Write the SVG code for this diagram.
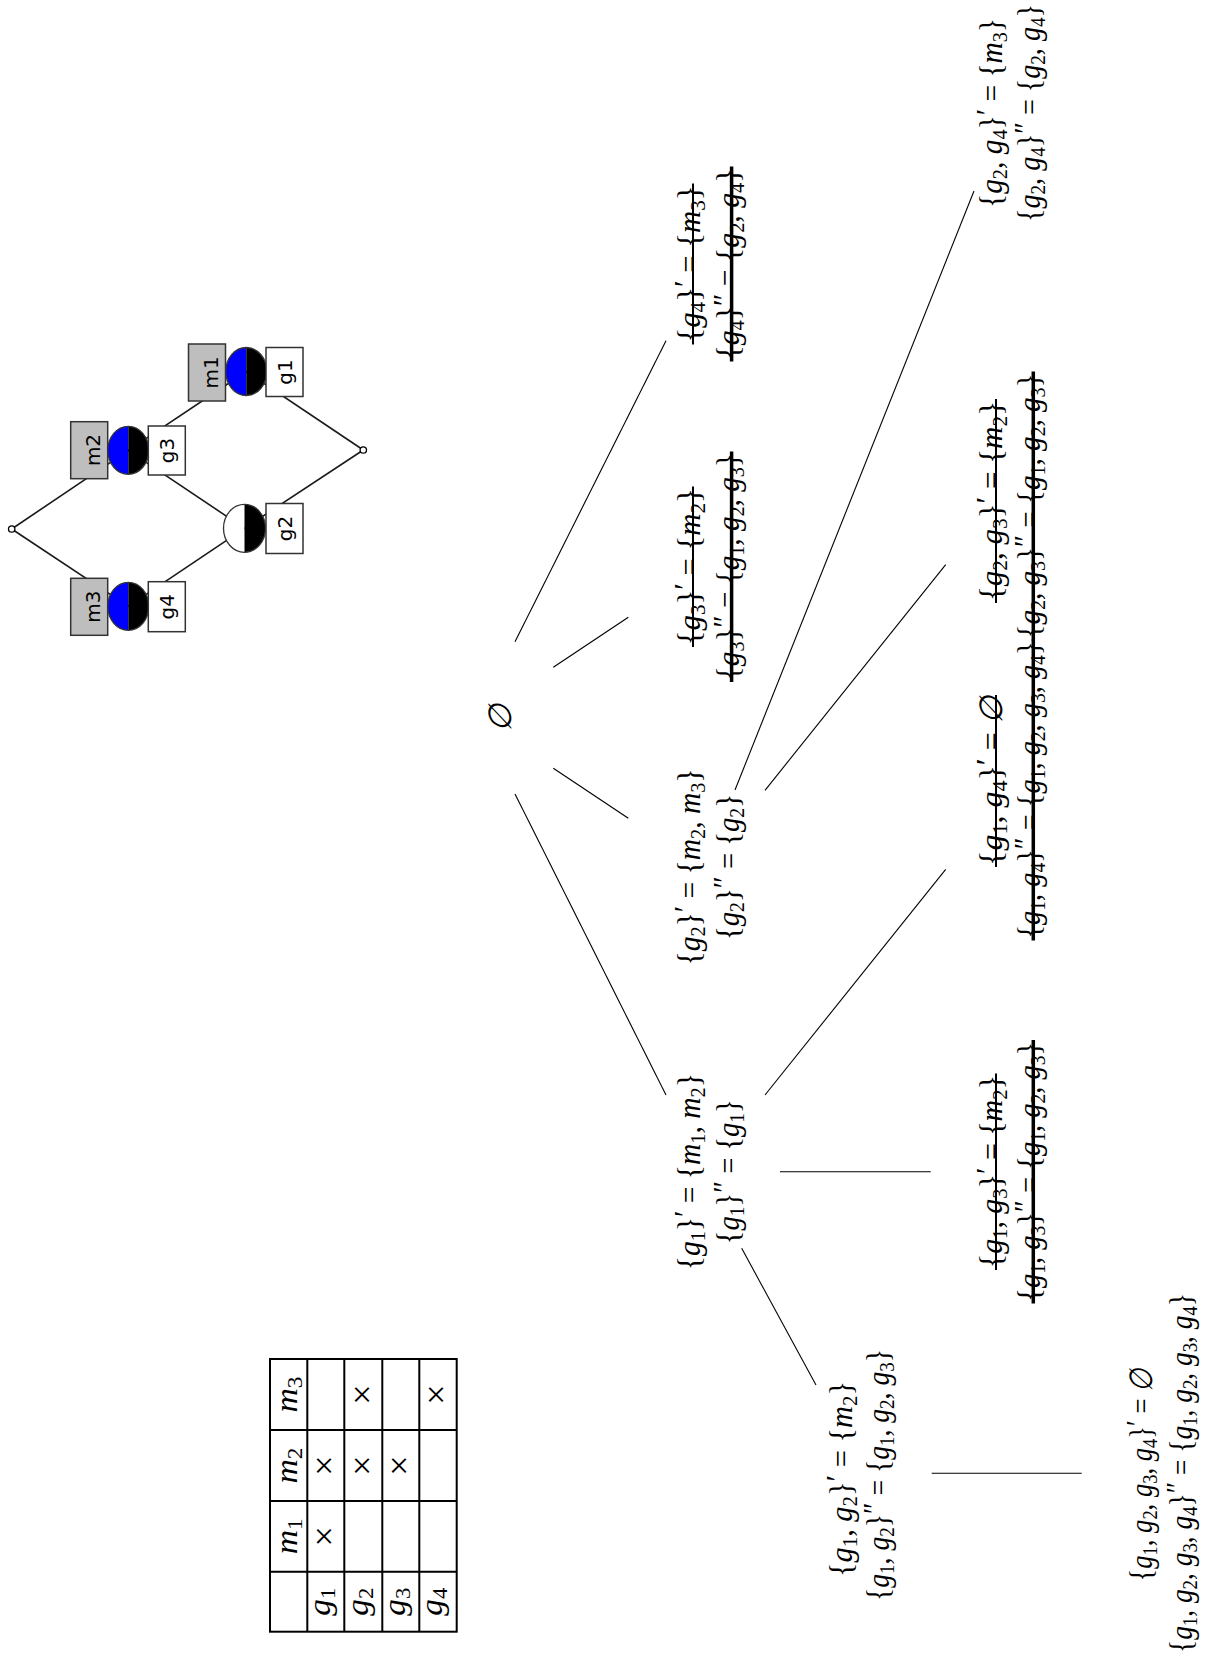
<svg xmlns="http://www.w3.org/2000/svg" width="1217" height="1664" viewBox="0 0 1217 1664">
<style>
.t{font-family:"Liberation Serif","DejaVu Serif",serif;font-size:32px;fill:#000}
.i{font-style:italic}
.s{font-size:22px}
.x{font-size:36px}
.e line{stroke:#000;stroke-width:1.1}
.k1{stroke:#000;stroke-width:2}
.k2{stroke:#000;stroke-width:3.5}
.lb{font-family:"DejaVu Sans",sans-serif;font-size:20px;fill:#000}
.ge line{stroke:#1a1a1a;stroke-width:1.6}
.gb{fill:#bebebe;stroke:#333;stroke-width:1.5}
.wb{fill:#fff;stroke:#333;stroke-width:1.5}
.tb line,.tb rect{stroke:#000;stroke-width:2;fill:none}
</style>
<rect width="1217" height="1664" fill="#fff"/>

<g id="lattice">
<g class="ge">
<line x1="11.7" y1="529" x2="128.3" y2="450.3"/>
<line x1="11.7" y1="529" x2="128.3" y2="606.3"/>
<line x1="128.3" y1="450.3" x2="246.3" y2="371.5"/>
<line x1="128.3" y1="450.3" x2="244.5" y2="528.3"/>
<line x1="128.3" y1="606.3" x2="244.5" y2="528.3"/>
<line x1="246.3" y1="371.5" x2="363.3" y2="450"/>
<line x1="244.5" y1="528.3" x2="363.3" y2="450"/>
</g>
<circle id="bottom" cx="11.7" cy="529" r="3.2" fill="#fff" stroke="#000" stroke-width="1.3"/>
<circle id="top" cx="363.3" cy="450" r="3.2" fill="#fff" stroke="#000" stroke-width="1.3"/>
<g id="n-m1">
<rect class="gb" x="188.5" y="344" width="37" height="57"/>
<path d="M246.3,347.5 A20.5,24 0 0 0 246.3,395.5 Z" fill="#0000ff"/>
<path d="M246.3,347.5 A20.5,24 0 0 1 246.3,395.5 Z" fill="#000"/>
<ellipse cx="246.3" cy="371.5" rx="20.5" ry="24" fill="none" stroke="#333" stroke-width="1.3"/>
<rect class="wb" x="266" y="347.5" width="37" height="49"/>
<text class="lb" text-anchor="middle" transform="translate(217.5,372.3) rotate(-90)">m1</text>
<text class="lb" text-anchor="middle" transform="translate(291.5,372) rotate(-90)">g1</text>
</g>
<g id="n-m2">
<rect class="gb" x="70.7" y="421.7" width="37" height="57"/>
<path d="M128.3,426.3 A20.5,24 0 0 0 128.3,474.3 Z" fill="#0000ff"/>
<path d="M128.3,426.3 A20.5,24 0 0 1 128.3,474.3 Z" fill="#000"/>
<ellipse cx="128.3" cy="450.3" rx="20.5" ry="24" fill="none" stroke="#333" stroke-width="1.3"/>
<rect class="wb" x="148.3" y="426" width="37" height="49"/>
<text class="lb" text-anchor="middle" transform="translate(99.7,450) rotate(-90)">m2</text>
<text class="lb" text-anchor="middle" transform="translate(174,450.5) rotate(-90)">g3</text>
</g>
<g id="n-g2">
<path d="M244.5,504.3 A21,24 0 0 0 244.5,552.3 Z" fill="#fff"/>
<path d="M244.5,504.3 A21,24 0 0 1 244.5,552.3 Z" fill="#000"/>
<ellipse cx="244.5" cy="528.3" rx="21" ry="24" fill="none" stroke="#333" stroke-width="1.3"/>
<rect class="wb" x="266" y="503.5" width="37" height="50"/>
<text class="lb" text-anchor="middle" transform="translate(291.5,528.5) rotate(-90)">g2</text>
</g>
<g id="n-m3">
<rect class="gb" x="70.7" y="578.3" width="37" height="57"/>
<path d="M128.3,582.3 A20.5,24 0 0 0 128.3,630.3 Z" fill="#0000ff"/>
<path d="M128.3,582.3 A20.5,24 0 0 1 128.3,630.3 Z" fill="#000"/>
<ellipse cx="128.3" cy="606.3" rx="20.5" ry="24" fill="none" stroke="#333" stroke-width="1.3"/>
<rect class="wb" x="148.3" y="581.7" width="37" height="50"/>
<text class="lb" text-anchor="middle" transform="translate(99.7,606.7) rotate(-90)">m3</text>
<text class="lb" text-anchor="middle" transform="translate(174,606.7) rotate(-90)">g4</text>
</g>
</g>

<g id="table" class="tb">
<rect x="270" y="1359" width="186.7" height="272.7"/>
<line x1="307.3" y1="1359" x2="307.3" y2="1631.7"/>
<line x1="344.3" y1="1359" x2="344.3" y2="1631.7"/>
<line x1="382.3" y1="1359" x2="382.3" y2="1631.7"/>
<line x1="419.3" y1="1359" x2="419.3" y2="1631.7"/>
<line x1="270" y1="1430" x2="456.7" y2="1430"/>
<line x1="270" y1="1501" x2="456.7" y2="1501"/>
<line x1="270" y1="1571.7" x2="456.7" y2="1571.7"/>
</g>
<g id="table-text" class="t">
<text text-anchor="middle" transform="translate(297,1394.5) rotate(-90)" textLength="36" lengthAdjust="spacingAndGlyphs"><tspan class="i">m</tspan><tspan class="s" dy="5">3</tspan></text>
<text text-anchor="middle" transform="translate(297,1465.5) rotate(-90)" textLength="36" lengthAdjust="spacingAndGlyphs"><tspan class="i">m</tspan><tspan class="s" dy="5">2</tspan></text>
<text text-anchor="middle" transform="translate(297,1536.3) rotate(-90)" textLength="36" lengthAdjust="spacingAndGlyphs"><tspan class="i">m</tspan><tspan class="s" dy="5">1</tspan></text>
<text text-anchor="middle" transform="translate(330,1601.7) rotate(-90)" textLength="28" lengthAdjust="spacingAndGlyphs"><tspan class="i">g</tspan><tspan class="s" dy="5">1</tspan></text>
<text text-anchor="middle" transform="translate(367.5,1601.7) rotate(-90)" textLength="28" lengthAdjust="spacingAndGlyphs"><tspan class="i">g</tspan><tspan class="s" dy="5">2</tspan></text>
<text text-anchor="middle" transform="translate(405,1601.7) rotate(-90)" textLength="28" lengthAdjust="spacingAndGlyphs"><tspan class="i">g</tspan><tspan class="s" dy="5">3</tspan></text>
<text text-anchor="middle" transform="translate(442.3,1601.7) rotate(-90)" textLength="28" lengthAdjust="spacingAndGlyphs"><tspan class="i">g</tspan><tspan class="s" dy="5">4</tspan></text>
<text class="x" text-anchor="middle" transform="translate(336,1536.3) rotate(-90)">×</text>
<text class="x" text-anchor="middle" transform="translate(336,1465.5) rotate(-90)">×</text>
<text class="x" text-anchor="middle" transform="translate(373.5,1465.5) rotate(-90)">×</text>
<text class="x" text-anchor="middle" transform="translate(373.5,1394.5) rotate(-90)">×</text>
<text class="x" text-anchor="middle" transform="translate(411,1465.5) rotate(-90)">×</text>
<text class="x" text-anchor="middle" transform="translate(448.3,1394.5) rotate(-90)">×</text>
</g>

<g id="connectors" class="e">
<line x1="515" y1="641.7" x2="666" y2="340.7"/>
<line x1="553.3" y1="667.3" x2="628.3" y2="617.3"/>
<line x1="553.3" y1="768.3" x2="628.3" y2="818.3"/>
<line x1="515" y1="794" x2="666" y2="1095"/>
<line x1="765" y1="1095" x2="945.7" y2="869.3"/>
<line x1="780" y1="1171.7" x2="930.7" y2="1171.7"/>
<line x1="741.7" y1="1248.3" x2="816" y2="1385"/>
<line x1="765" y1="790.3" x2="945.7" y2="564.6"/>
<line x1="735" y1="790" x2="974" y2="191"/>
<line x1="931.7" y1="1473.3" x2="1081.7" y2="1473.3"/>
</g>

<g id="n-empty" class="t">
<text class="i" text-anchor="middle" transform="translate(511,718) rotate(-90)">∅</text>
</g>

<g id="n-g1" class="t">
<text text-anchor="middle" transform="translate(700,1171.7) rotate(-90)" textLength="197" lengthAdjust="spacingAndGlyphs">{<tspan class="i">g</tspan><tspan class="s" dy="5">1</tspan><tspan dy="-5">}</tspan><tspan dy="-4">′</tspan><tspan dy="4"> = {</tspan><tspan class="i">m</tspan><tspan class="s" dy="5">1</tspan><tspan dy="-5">, </tspan><tspan class="i">m</tspan><tspan class="s" dy="5">2</tspan><tspan dy="-5">}</tspan></text>
<text text-anchor="middle" transform="translate(738.6,1171.7) rotate(-90)" textLength="145" lengthAdjust="spacingAndGlyphs">{<tspan class="i">g</tspan><tspan class="s" dy="5">1</tspan><tspan dy="-5">}</tspan><tspan dy="-4">″</tspan><tspan dy="4"> = {</tspan><tspan class="i">g</tspan><tspan class="s" dy="5">1</tspan><tspan dy="-5">}</tspan></text>
</g>

<g id="n-g2" class="t">
<text text-anchor="middle" transform="translate(700,867) rotate(-90)" textLength="197" lengthAdjust="spacingAndGlyphs">{<tspan class="i">g</tspan><tspan class="s" dy="5">2</tspan><tspan dy="-5">}</tspan><tspan dy="-4">′</tspan><tspan dy="4"> = {</tspan><tspan class="i">m</tspan><tspan class="s" dy="5">2</tspan><tspan dy="-5">, </tspan><tspan class="i">m</tspan><tspan class="s" dy="5">3</tspan><tspan dy="-5">}</tspan></text>
<text text-anchor="middle" transform="translate(738.6,867) rotate(-90)" textLength="146" lengthAdjust="spacingAndGlyphs">{<tspan class="i">g</tspan><tspan class="s" dy="5">2</tspan><tspan dy="-5">}</tspan><tspan dy="-4">″</tspan><tspan dy="4"> = {</tspan><tspan class="i">g</tspan><tspan class="s" dy="5">2</tspan><tspan dy="-5">}</tspan></text>
</g>

<g id="n-g3" class="t">
<text text-anchor="middle" transform="translate(700,566.7) rotate(-90)" textLength="157" lengthAdjust="spacingAndGlyphs">{<tspan class="i">g</tspan><tspan class="s" dy="5">3</tspan><tspan dy="-5">}</tspan><tspan dy="-4">′</tspan><tspan dy="4"> = {</tspan><tspan class="i">m</tspan><tspan class="s" dy="5">2</tspan><tspan dy="-5">}</tspan></text>
<text text-anchor="middle" transform="translate(738.6,566.7) rotate(-90)" textLength="227" lengthAdjust="spacingAndGlyphs">{<tspan class="i">g</tspan><tspan class="s" dy="5">3</tspan><tspan dy="-5">}</tspan><tspan dy="-4">″</tspan><tspan dy="4"> = {</tspan><tspan class="i">g</tspan><tspan class="s" dy="5">1</tspan><tspan dy="-5">, </tspan><tspan class="i">g</tspan><tspan class="s" dy="5">2</tspan><tspan dy="-5">, </tspan><tspan class="i">g</tspan><tspan class="s" dy="5">3</tspan><tspan dy="-5">}</tspan></text>
<line class="k1" x1="693" y1="647" x2="693" y2="486.5"/>
<line class="k2" x1="731.6" y1="682" x2="731.6" y2="451.5"/>
</g>

<g id="n-g4" class="t">
<text text-anchor="middle" transform="translate(700,264) rotate(-90)" textLength="157" lengthAdjust="spacingAndGlyphs">{<tspan class="i">g</tspan><tspan class="s" dy="5">4</tspan><tspan dy="-5">}</tspan><tspan dy="-4">′</tspan><tspan dy="4"> = {</tspan><tspan class="i">m</tspan><tspan class="s" dy="5">3</tspan><tspan dy="-5">}</tspan></text>
<text text-anchor="middle" transform="translate(738.6,264) rotate(-90)" textLength="191" lengthAdjust="spacingAndGlyphs">{<tspan class="i">g</tspan><tspan class="s" dy="5">4</tspan><tspan dy="-5">}</tspan><tspan dy="-4">″</tspan><tspan dy="4"> = {</tspan><tspan class="i">g</tspan><tspan class="s" dy="5">2</tspan><tspan dy="-5">, </tspan><tspan class="i">g</tspan><tspan class="s" dy="5">4</tspan><tspan dy="-5">}</tspan></text>
<line class="k1" x1="693" y1="344.5" x2="693" y2="183.5"/>
<line class="k2" x1="731.6" y1="361.5" x2="731.6" y2="166.5"/>
</g>

<g id="n-g1g2" class="t">
<text text-anchor="middle" transform="translate(852,1479) rotate(-90)" textLength="196" lengthAdjust="spacingAndGlyphs">{<tspan class="i">g</tspan><tspan class="s" dy="5">1</tspan><tspan dy="-5">, </tspan><tspan class="i">g</tspan><tspan class="s" dy="5">2</tspan><tspan dy="-5">}</tspan><tspan dy="-4">′</tspan><tspan dy="4"> = {</tspan><tspan class="i">m</tspan><tspan class="s" dy="5">2</tspan><tspan dy="-5">}</tspan></text>
<text text-anchor="middle" transform="translate(888.5,1475) rotate(-90)" textLength="252" lengthAdjust="spacingAndGlyphs">{<tspan class="i">g</tspan><tspan class="s" dy="5">1</tspan><tspan dy="-5">, </tspan><tspan class="i">g</tspan><tspan class="s" dy="5">2</tspan><tspan dy="-5">}</tspan><tspan dy="-4">″</tspan><tspan dy="4"> = {</tspan><tspan class="i">g</tspan><tspan class="s" dy="5">1</tspan><tspan dy="-5">, </tspan><tspan class="i">g</tspan><tspan class="s" dy="5">2</tspan><tspan dy="-5">, </tspan><tspan class="i">g</tspan><tspan class="s" dy="5">3</tspan><tspan dy="-5">}</tspan></text>
</g>

<g id="n-g1g3" class="t">
<text text-anchor="middle" transform="translate(1001.5,1171.7) rotate(-90)" textLength="193" lengthAdjust="spacingAndGlyphs">{<tspan class="i">g</tspan><tspan class="s" dy="5">1</tspan><tspan dy="-5">, </tspan><tspan class="i">g</tspan><tspan class="s" dy="5">3</tspan><tspan dy="-5">}</tspan><tspan dy="-4">′</tspan><tspan dy="4"> = {</tspan><tspan class="i">m</tspan><tspan class="s" dy="5">2</tspan><tspan dy="-5">}</tspan></text>
<text text-anchor="middle" transform="translate(1040,1171.7) rotate(-90)" textLength="260" lengthAdjust="spacingAndGlyphs">{<tspan class="i">g</tspan><tspan class="s" dy="5">1</tspan><tspan dy="-5">, </tspan><tspan class="i">g</tspan><tspan class="s" dy="5">3</tspan><tspan dy="-5">}</tspan><tspan dy="-4">″</tspan><tspan dy="4"> = {</tspan><tspan class="i">g</tspan><tspan class="s" dy="5">1</tspan><tspan dy="-5">, </tspan><tspan class="i">g</tspan><tspan class="s" dy="5">2</tspan><tspan dy="-5">, </tspan><tspan class="i">g</tspan><tspan class="s" dy="5">3</tspan><tspan dy="-5">}</tspan></text>
<line class="k1" x1="996" y1="1270" x2="996" y2="1073.5"/>
<line class="k2" x1="1033.3" y1="1303.5" x2="1033.3" y2="1040"/>
</g>

<g id="n-g1g4" class="t">
<text text-anchor="middle" transform="translate(1001.5,781) rotate(-90)" textLength="170" lengthAdjust="spacingAndGlyphs">{<tspan class="i">g</tspan><tspan class="s" dy="5">1</tspan><tspan dy="-5">, </tspan><tspan class="i">g</tspan><tspan class="s" dy="5">4</tspan><tspan dy="-5">}</tspan><tspan dy="-4">′</tspan><tspan dy="4"> = </tspan><tspan class="i">∅</tspan></text>
<text text-anchor="middle" transform="translate(1040,790) rotate(-90)" textLength="297" lengthAdjust="spacingAndGlyphs">{<tspan class="i">g</tspan><tspan class="s" dy="5">1</tspan><tspan dy="-5">, </tspan><tspan class="i">g</tspan><tspan class="s" dy="5">4</tspan><tspan dy="-5">}</tspan><tspan dy="-4">″</tspan><tspan dy="4"> = {</tspan><tspan class="i">g</tspan><tspan class="s" dy="5">1</tspan><tspan dy="-5">, </tspan><tspan class="i">g</tspan><tspan class="s" dy="5">2</tspan><tspan dy="-5">, </tspan><tspan class="i">g</tspan><tspan class="s" dy="5">3</tspan><tspan dy="-5">, </tspan><tspan class="i">g</tspan><tspan class="s" dy="5">4</tspan><tspan dy="-5">}</tspan></text>
<line class="k1" x1="996" y1="867" x2="996" y2="695"/>
<line class="k2" x1="1033.3" y1="940.5" x2="1033.3" y2="639.5"/>
</g>

<g id="n-g2g3" class="t">
<text text-anchor="middle" transform="translate(1001.5,501) rotate(-90)" textLength="200" lengthAdjust="spacingAndGlyphs">{<tspan class="i">g</tspan><tspan class="s" dy="5">2</tspan><tspan dy="-5">, </tspan><tspan class="i">g</tspan><tspan class="s" dy="5">3</tspan><tspan dy="-5">}</tspan><tspan dy="-4">′</tspan><tspan dy="4"> = {</tspan><tspan class="i">m</tspan><tspan class="s" dy="5">2</tspan><tspan dy="-5">}</tspan></text>
<text text-anchor="middle" transform="translate(1040,506) rotate(-90)" textLength="265" lengthAdjust="spacingAndGlyphs">{<tspan class="i">g</tspan><tspan class="s" dy="5">2</tspan><tspan dy="-5">, </tspan><tspan class="i">g</tspan><tspan class="s" dy="5">3</tspan><tspan dy="-5">}</tspan><tspan dy="-4">″</tspan><tspan dy="4"> = {</tspan><tspan class="i">g</tspan><tspan class="s" dy="5">1</tspan><tspan dy="-5">, </tspan><tspan class="i">g</tspan><tspan class="s" dy="5">2</tspan><tspan dy="-5">, </tspan><tspan class="i">g</tspan><tspan class="s" dy="5">3</tspan><tspan dy="-5">}</tspan></text>
<line class="k1" x1="996" y1="603" x2="996" y2="399"/>
<line class="k2" x1="1033.3" y1="640.5" x2="1033.3" y2="371.5"/>
</g>

<g id="n-g2g4" class="t">
<text text-anchor="middle" transform="translate(1001.5,113) rotate(-90)" textLength="190" lengthAdjust="spacingAndGlyphs">{<tspan class="i">g</tspan><tspan class="s" dy="5">2</tspan><tspan dy="-5">, </tspan><tspan class="i">g</tspan><tspan class="s" dy="5">4</tspan><tspan dy="-5">}</tspan><tspan dy="-4">′</tspan><tspan dy="4"> = {</tspan><tspan class="i">m</tspan><tspan class="s" dy="5">3</tspan><tspan dy="-5">}</tspan></text>
<text text-anchor="middle" transform="translate(1040,113) rotate(-90)" textLength="218" lengthAdjust="spacingAndGlyphs">{<tspan class="i">g</tspan><tspan class="s" dy="5">2</tspan><tspan dy="-5">, </tspan><tspan class="i">g</tspan><tspan class="s" dy="5">4</tspan><tspan dy="-5">}</tspan><tspan dy="-4">″</tspan><tspan dy="4"> = {</tspan><tspan class="i">g</tspan><tspan class="s" dy="5">2</tspan><tspan dy="-5">, </tspan><tspan class="i">g</tspan><tspan class="s" dy="5">4</tspan><tspan dy="-5">}</tspan></text>
</g>

<g id="n-all" class="t">
<text text-anchor="middle" transform="translate(1152,1475) rotate(-90)" textLength="213" lengthAdjust="spacingAndGlyphs">{<tspan class="i">g</tspan><tspan class="s" dy="5">1</tspan><tspan dy="-5">, </tspan><tspan class="i">g</tspan><tspan class="s" dy="5">2</tspan><tspan dy="-5">, </tspan><tspan class="i">g</tspan><tspan class="s" dy="5">3</tspan><tspan dy="-5">, </tspan><tspan class="i">g</tspan><tspan class="s" dy="5">4</tspan><tspan dy="-5">}</tspan><tspan dy="-4">′</tspan><tspan dy="4"> = </tspan><tspan class="i">∅</tspan></text>
<text text-anchor="middle" transform="translate(1192,1473) rotate(-90)" textLength="360" lengthAdjust="spacingAndGlyphs">{<tspan class="i">g</tspan><tspan class="s" dy="5">1</tspan><tspan dy="-5">, </tspan><tspan class="i">g</tspan><tspan class="s" dy="5">2</tspan><tspan dy="-5">, </tspan><tspan class="i">g</tspan><tspan class="s" dy="5">3</tspan><tspan dy="-5">, </tspan><tspan class="i">g</tspan><tspan class="s" dy="5">4</tspan><tspan dy="-5">}</tspan><tspan dy="-4">″</tspan><tspan dy="4"> = {</tspan><tspan class="i">g</tspan><tspan class="s" dy="5">1</tspan><tspan dy="-5">, </tspan><tspan class="i">g</tspan><tspan class="s" dy="5">2</tspan><tspan dy="-5">, </tspan><tspan class="i">g</tspan><tspan class="s" dy="5">3</tspan><tspan dy="-5">, </tspan><tspan class="i">g</tspan><tspan class="s" dy="5">4</tspan><tspan dy="-5">}</tspan></text>
</g>
</svg>
